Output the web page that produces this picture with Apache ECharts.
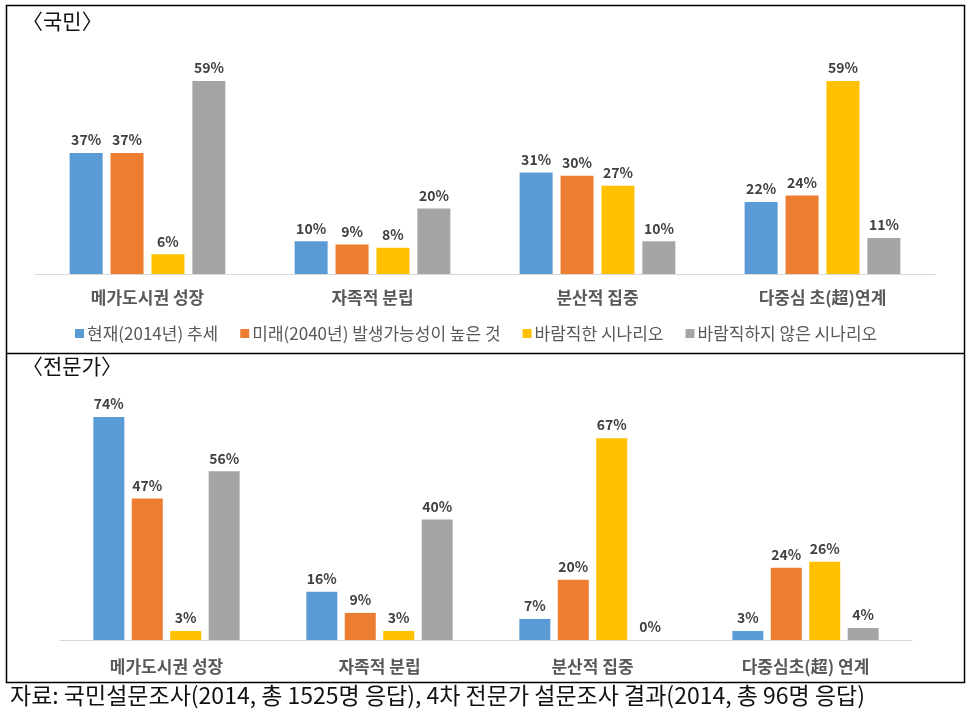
<!DOCTYPE html>
<html><head><meta charset="utf-8">
<script src="https://cdn.jsdelivr.net/npm/echarts@6/dist/echarts.min.js"></script>
<style>html,body{margin:0;padding:0;background:#fff}#c{width:975px;height:719px}</style>
</head><body><div id="c"></div>
<script>
const categoriesTop = ['메가도시권 성장', '자족적 분립', '분산적 집중', '다중심 초(超)연계'];
const categoriesBottom = ['메가도시권 성장', '자족적 분립', '분산적 집중', '다중심초(超) 연계'];
const seriesNames = ['현재(2014년) 추세', '미래(2040년) 발생가능성이 높은 것', '바람직한 시나리오', '바람직하지 않은 시나리오'];
const colors = ['#5B9BD5', '#ED7D31', '#FFC000', '#A5A5A5'];
const publicCurrent = [37, 10, 31, 22];
const publicFuture = [37, 9, 30, 24];
const publicDesired = [6, 8, 27, 59];
const publicUndesired = [59, 20, 10, 11];
const expertCurrent = [74, 16, 7, 3];
const expertFuture = [47, 9, 20, 24];
const expertDesired = [3, 3, 67, 26];
const expertUndesired = [56, 40, 0, 4];
const titleTop = '〈국민〉';
const titleBottom = '〈전문가〉';
const sourceText = '자료: 국민설문조사(2014, 총 1525명 응답), 4차 전문가 설문조사 결과(2014, 총 96명 응답)';

const font = '"Noto Sans CJK KR", "Noto Sans", sans-serif';
const chart = echarts.init(document.getElementById('c'));
const topData = [publicCurrent, publicFuture, publicDesired, publicUndesired];
const botData = [expertCurrent, expertFuture, expertDesired, expertUndesired];
const series = [];
function mk(name, data, idx, color, bw) {
  return {
    name: name, type: 'bar', xAxisIndex: idx, yAxisIndex: idx, data: data,
    barWidth: bw, barGap: '24%',
    itemStyle: { color: color },
    label: { show: true, position: 'top', formatter: '{c}%', color: '#404040', fontWeight: 'bold', fontSize: 14, fontFamily: font, distance: 6 }
  };
}
seriesNames.forEach((n, i) => series.push(mk(n, topData[i], 0, colors[i], 33)));
seriesNames.forEach((n, i) => series.push(mk(n, botData[i], 1, colors[i], 31)));

const axisCommon = (cats, margin) => ({
  type: 'category', data: cats,
  axisLine: { show: true, lineStyle: { color: '#D9D9D9', width: 1 } },
  axisTick: { show: false },
  axisLabel: { color: '#595959', fontWeight: 'bold', fontSize: 17, fontFamily: font, margin: margin }
});

chart.setOption({
  animation: false,
  textStyle: { fontFamily: font },
  grid: [
    { left: 35, top: 45, width: 900, height: 229 },
    { left: 60, top: 399, width: 852, height: 241 }
  ],
  xAxis: [ Object.assign(axisCommon(categoriesTop, 15), { gridIndex: 0 }), Object.assign(axisCommon(categoriesBottom, 18), { gridIndex: 1 }) ],
  yAxis: [
    { type: 'value', gridIndex: 0, min: 0, max: 70, show: false, splitLine: { show: false } },
    { type: 'value', gridIndex: 1, min: 0, max: 80, show: false, splitLine: { show: false } }
  ],
  legend: {
    data: seriesNames, left: 70, top: 320, itemWidth: 9, itemHeight: 9, itemGap: 22,
    icon: 'rect', textStyle: { color: '#595959', fontSize: 17, fontFamily: font, padding: [0, 0, 0, -2] }
  },
  graphic: [
    { type: 'rect', shape: { x: 6.5, y: 5.5, width: 958, height: 677 }, style: { fill: 'none', stroke: '#000', lineWidth: 1.5 }, silent: true },
    { type: 'line', shape: { x1: 6.5, y1: 353.5, x2: 964.5, y2: 353.5 }, style: { stroke: '#000', lineWidth: 1.5 }, silent: true },
    { type: 'text', left: 22, top: 11, style: { text: titleTop, font: '21px ' + font, fill: '#111' } },
    { type: 'text', left: 22, top: 356, style: { text: titleBottom, font: '21px ' + font, fill: '#111' } },
    { type: 'text', left: 10, top: 684, style: { text: sourceText, font: '23px ' + font, fill: '#111' } }
  ],
  series: series
});
</script></body></html>
